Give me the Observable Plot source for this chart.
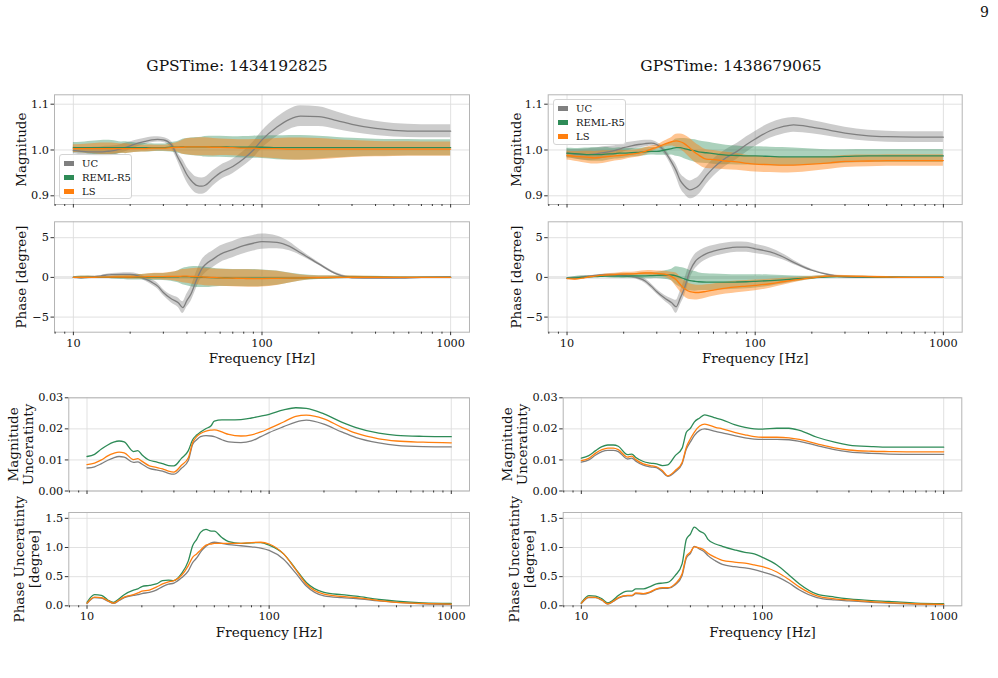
<!DOCTYPE html>
<html><head><meta charset="utf-8">
<script src="https://cdn.jsdelivr.net/npm/d3@7"></script>
<script src="https://cdn.jsdelivr.net/npm/@observablehq/plot@0.6"></script>
<style>
body{margin:0;background:#fff;}
#fig{position:relative;width:998px;height:678px;overflow:hidden;font-family:"DejaVu Serif",serif;background:#fff;}
.title{position:absolute;font-size:15.5px;color:#111;white-space:nowrap;transform:translateX(-50%);line-height:1;}
.pagenum{position:absolute;font-size:14px;color:#111;line-height:1;}
.legend{position:absolute;border:1px solid #d4d4d4;border-radius:3px;background:rgba(255,255,255,0.85);font-size:10px;box-sizing:border-box;padding:1px 4px 0 4px;color:#111;}
.legend .row{height:14.4px;display:flex;align-items:center;white-space:nowrap;}
.legend .sw{width:10px;height:5px;margin-right:8px;flex:none;}
</style></head><body><div id="fig"></div>
<script>
// ---------------- data ----------------
const freqs = [10,11,12,13,14,15,16,18,19,20,22,24,26,28,30,33,36,38,40,42,45,48,50,55,60,70,80,90,100,120,140,160,200,250,300,400,500,700,1000];
const gpsTimes = ["1434192825","1438679065"];
const seriesNames = ["UC","REML-R5","LS"];
const seriesColors = ["#7f7f7f","#2e8b57","#ff7f0e"];
const majorX = [10,100,1000];
const minorX = [8,9,20,30,40,50,60,70,80,90,200,300,400,500,600,700,800,900];
const magTicks = [0.9,1.0,1.1];
const phaseTicks = [-5,0,5];
const magUncTicks = [0,0.01,0.02,0.03];
const phaseUncTicks = [0,0.5,1.0,1.5];

// left column (GPSTime 1434192825)
const magUC_L = [0.999,0.997,0.996,0.996,0.996,0.997,0.998,1.003,1.006,1.009,1.015,1.019,1.022,1.023,1.022,1.012,0.982,0.964,0.946,0.934,0.923,0.921,0.923,0.938,0.950,0.964,0.981,1.000,1.022,1.050,1.067,1.074,1.073,1.064,1.056,1.047,1.043,1.041,1.041];
const magREML_L = [1.005,1.005,1.005,1.005,1.005,1.005,1.005,1.005,1.005,1.005,1.005,1.005,1.005,1.005,1.005,1.006,1.006,1.007,1.007,1.007,1.007,1.007,1.007,1.007,1.007,1.006,1.006,1.006,1.006,1.005,1.005,1.005,1.005,1.005,1.005,1.005,1.005,1.005,1.005];
const magLS_L = [1.003,1.003,1.003,1.003,1.003,1.003,1.003,1.003,1.003,1.003,1.003,1.003,1.004,1.004,1.004,1.005,1.006,1.006,1.007,1.007,1.007,1.007,1.007,1.006,1.006,1.005,1.004,1.004,1.003,1.003,1.002,1.002,1.002,1.002,1.002,1.002,1.002,1.002,1.002];
const phaseUC_L = [0.0,-0.05,0.0,0.1,0.2,0.3,0.35,0.38,0.38,0.38,0.2,-0.2,-0.6,-1.1,-1.9,-2.7,-3.2,-3.8,-2.9,-2.1,-0.3,1.1,1.6,2.3,2.9,3.5,4.0,4.3,4.5,4.4,3.9,3.1,1.7,0.4,-0.05,-0.1,-0.1,0.0,0.05];
const phaseREML_L = [0,0,0,0,0,0,0,0,0,0,0.02,0.03,0.04,0.05,0.05,0.06,0.08,0.1,0.1,0.08,0.05,0.02,0,-0.03,-0.05,-0.08,-0.1,-0.1,-0.1,-0.1,-0.08,-0.05,-0.03,0,0.02,0.02,0.01,0,0];
const phaseLS_L = [0,0,0,0.02,0.03,0.04,0.05,0.05,0.05,0.05,0.06,0.08,0.1,0.1,0.1,0.12,0.13,0.15,0.15,0.12,0.1,0.06,0.03,0,-0.05,-0.1,-0.13,-0.15,-0.15,-0.12,-0.1,-0.07,-0.04,0,0.02,0.02,0.01,0,0];
const magUncUC_L = [0.0074,0.0078,0.0088,0.0099,0.0107,0.0111,0.0109,0.0092,0.0094,0.0087,0.0073,0.0068,0.0064,0.0057,0.0054,0.0073,0.0098,0.0150,0.0165,0.0175,0.0178,0.0177,0.0175,0.0165,0.0158,0.0156,0.0161,0.0175,0.0188,0.0207,0.0222,0.0228,0.0215,0.0190,0.0172,0.0155,0.0147,0.0143,0.0142];
const magUncREML_L = [0.0111,0.0118,0.0135,0.0148,0.0157,0.0161,0.0158,0.0127,0.0130,0.0117,0.0099,0.0094,0.0088,0.0082,0.0081,0.0105,0.0130,0.0165,0.0180,0.0190,0.0201,0.0210,0.0225,0.0229,0.0229,0.0230,0.0235,0.0241,0.0247,0.0261,0.0268,0.0266,0.0248,0.0222,0.0204,0.0186,0.0179,0.0176,0.0175];
const magUncLS_L = [0.0085,0.0090,0.0100,0.0113,0.0121,0.0125,0.0123,0.0101,0.0104,0.0096,0.0081,0.0076,0.0071,0.0064,0.0061,0.0083,0.0107,0.0155,0.0175,0.0185,0.0193,0.0196,0.0197,0.0190,0.0182,0.0177,0.0181,0.0190,0.0201,0.0222,0.0240,0.0244,0.0232,0.0205,0.0186,0.0168,0.0161,0.0157,0.0155];
const phaseUncUC_L = [0.04,0.14,0.13,0.08,0.04,0.09,0.14,0.18,0.19,0.21,0.23,0.27,0.33,0.37,0.39,0.48,0.60,0.74,0.82,0.92,1.02,1.08,1.09,1.07,1.05,1.03,1.01,0.99,0.95,0.80,0.56,0.34,0.17,0.14,0.125,0.085,0.06,0.035,0.025];
const phaseUncREML_L = [0.06,0.19,0.18,0.10,0.06,0.12,0.19,0.27,0.29,0.33,0.35,0.375,0.43,0.44,0.43,0.55,0.77,1.03,1.14,1.26,1.31,1.28,1.28,1.17,1.10,1.07,1.08,1.085,1.04,0.89,0.63,0.40,0.23,0.19,0.165,0.11,0.08,0.05,0.04];
const phaseUncLS_L = [0.045,0.15,0.14,0.09,0.045,0.10,0.15,0.19,0.22,0.25,0.27,0.32,0.375,0.41,0.43,0.52,0.69,0.83,0.89,0.955,1.04,1.06,1.07,1.07,1.07,1.07,1.085,1.09,1.06,0.89,0.62,0.375,0.20,0.16,0.14,0.09,0.06,0.04,0.03];

// right column (GPSTime 1438679065)
const magUC_R = [0.993,0.991,0.990,0.990,0.991,0.993,0.995,0.999,1.002,1.005,1.009,1.012,1.014,1.015,1.012,0.997,0.973,0.955,0.933,0.922,0.913,0.917,0.922,0.944,0.961,0.983,0.997,1.012,1.024,1.042,1.051,1.055,1.050,1.043,1.037,1.031,1.029,1.028,1.028];
const magREML_R = [0.993,0.992,0.991,0.990,0.990,0.990,0.991,0.992,0.993,0.993,0.994,0.995,0.996,0.997,0.997,1.000,1.003,1.005,1.005,1.003,1.000,0.998,0.996,0.994,0.992,0.989,0.988,0.987,0.987,0.986,0.985,0.985,0.985,0.985,0.986,0.987,0.987,0.987,0.987];
const magLS_R = [0.988,0.986,0.985,0.984,0.983,0.984,0.985,0.987,0.988,0.989,0.991,0.993,0.997,1.002,1.006,1.013,1.018,1.020,1.018,1.014,1.004,0.994,0.989,0.980,0.979,0.976,0.974,0.971,0.969,0.968,0.967,0.967,0.969,0.972,0.975,0.976,0.977,0.977,0.977];
const phaseUC_R = [-0.1,-0.1,0.05,0.15,0.25,0.3,0.3,0.3,0.3,0.25,0.12,-0.1,-0.45,-1.1,-1.8,-2.6,-3.2,-3.7,-2.6,-1.4,0.8,2.0,2.4,3.0,3.3,3.65,3.8,3.8,3.6,3.2,2.6,1.9,0.9,0.3,0.05,0.0,0.0,0.0,0.0];
const phaseREML_R = [-0.1,-0.05,0.0,0.05,0.1,0.12,0.15,0.15,0.15,0.15,0.18,0.2,0.2,0.22,0.25,0.3,0.3,0.2,0.0,-0.2,-0.4,-0.5,-0.55,-0.6,-0.6,-0.6,-0.58,-0.55,-0.5,-0.4,-0.3,-0.2,-0.05,0.08,0.1,0.05,0.02,0.0,0.0];
const phaseLS_R = [-0.15,-0.2,-0.1,0.05,0.15,0.25,0.3,0.35,0.4,0.42,0.45,0.5,0.55,0.55,0.5,0.4,0.1,-0.3,-0.9,-1.4,-1.8,-1.9,-1.9,-1.75,-1.6,-1.35,-1.2,-1.1,-1.0,-0.8,-0.55,-0.35,-0.05,0.15,0.15,0.1,0.05,0.0,0.0];
const magUncUC_R = [0.0093,0.0100,0.0116,0.0127,0.0131,0.0131,0.0127,0.0103,0.0106,0.0096,0.0083,0.0078,0.0075,0.0062,0.0047,0.0062,0.0088,0.0135,0.0158,0.0178,0.0195,0.0200,0.0198,0.0192,0.0187,0.0178,0.0171,0.0167,0.0166,0.0166,0.0165,0.0160,0.0146,0.0133,0.0126,0.0121,0.0119,0.0118,0.0118];
const magUncREML_R = [0.0106,0.0114,0.0130,0.0143,0.0148,0.0148,0.0144,0.0117,0.0119,0.0108,0.0095,0.0090,0.0087,0.0082,0.0084,0.0114,0.0138,0.0189,0.0202,0.0222,0.0235,0.0245,0.0243,0.0235,0.0229,0.0214,0.0205,0.0200,0.0199,0.0202,0.0202,0.0195,0.0173,0.0157,0.0148,0.0143,0.0141,0.0141,0.0141];
const magUncLS_R = [0.0098,0.0105,0.0122,0.0133,0.0138,0.0138,0.0133,0.0109,0.0112,0.0101,0.0087,0.0082,0.0078,0.0066,0.0049,0.0066,0.0092,0.0141,0.0168,0.0189,0.0209,0.0215,0.0213,0.0205,0.0200,0.0189,0.0181,0.0175,0.0173,0.0173,0.0171,0.0166,0.0152,0.0139,0.0132,0.0128,0.0127,0.0126,0.0126];
const phaseUncUC_R = [0.04,0.14,0.14,0.095,0.03,0.075,0.13,0.17,0.17,0.21,0.20,0.23,0.28,0.30,0.30,0.36,0.52,0.82,0.90,1.02,0.97,0.92,0.86,0.77,0.71,0.67,0.65,0.62,0.58,0.50,0.39,0.27,0.14,0.10,0.085,0.06,0.045,0.03,0.02];
const phaseUncREML_R = [0.05,0.175,0.165,0.12,0.05,0.10,0.175,0.25,0.25,0.29,0.29,0.33,0.375,0.39,0.40,0.52,0.72,1.14,1.23,1.35,1.28,1.23,1.14,1.06,1.02,0.96,0.915,0.89,0.83,0.70,0.53,0.375,0.20,0.15,0.12,0.09,0.075,0.045,0.035];
const phaseUncLS_R = [0.045,0.15,0.145,0.10,0.035,0.08,0.14,0.18,0.18,0.22,0.21,0.24,0.29,0.31,0.31,0.38,0.55,0.85,0.92,1.01,0.99,0.95,0.90,0.83,0.78,0.75,0.73,0.70,0.67,0.58,0.45,0.32,0.17,0.12,0.10,0.07,0.055,0.035,0.025];

// ---------------- drawing ----------------
const fig = document.getElementById("fig");
const gridColor = "#dedede", frameColor = "#b4b4b4";
const bandOpacity = [0.4, 0.4, 0.45];
const xDomain = [Math.pow(10,0.9), Math.pow(10,3.1)];
const fmtMinus = d => (d < 0 ? "\u2212" + Math.abs(d) : String(d));

function panel(c) {
  const rows = c.values.map((vals, k) => freqs.map((f, i) => ({
    f, v: vals[i],
    lo: c.unc ? vals[i] - c.unc[k][i] : vals[i],
    hi: c.unc ? vals[i] + c.unc[k][i] : vals[i]
  })));
  const marks = [
    Plot.gridX(majorX, {stroke: gridColor, strokeOpacity: 1, strokeWidth: 0.9}),
    Plot.gridY(c.yTicks, {stroke: gridColor, strokeOpacity: 1, strokeWidth: 0.9})
  ];
  if (c.zero) marks.push(Plot.ruleY([0], {stroke: "#e8e8e8", strokeWidth: 3}));
  if (c.unc) rows.forEach((r, k) => marks.push(Plot.areaY(r, {x: "f", y1: "lo", y2: "hi", fill: seriesColors[k], fillOpacity: bandOpacity[k], curve: "monotone-x"})));
  rows.forEach((r, k) => marks.push(Plot.line(r, {x: "f", y: "v", stroke: seriesColors[k], strokeWidth: 1.3, curve: "monotone-x"})));
  marks.push(Plot.frame({stroke: frameColor, strokeWidth: 1}));
  marks.push(Plot.axisX(majorX, {tickSize: 3.5, tickPadding: 3, tickFormat: c.xLabels ? (d => String(d)) : (() => ""), label: null, stroke: "#333"}));
  marks.push(Plot.axisX(minorX, {tickSize: 2, tickFormat: () => "", label: null, stroke: "#333"}));
  marks.push(Plot.axisY(c.yTicks, {tickSize: 3.5, tickPadding: 2, tickFormat: c.yFmt, label: null, stroke: "#333"}));
  marks.push(Plot.text([c.yLabel], {text: d => d, frameAnchor: "left", rotate: -90, dx: c.labelDx, textAnchor: "middle", lineAnchor: "middle", fontSize: 13.5, lineHeight: 1.12, fill: "#111"}));
  if (c.xLabels) marks.push(Plot.text(["Frequency [Hz]"], {text: d => d, frameAnchor: "bottom", dy: 26.5, textAnchor: "middle", lineAnchor: "middle", fontSize: 13.5, fill: "#111"}));
  const svg = Plot.plot({
    width: c.width, height: c.height,
    marginLeft: c.mL, marginRight: c.mR, marginTop: c.mT, marginBottom: c.mB,
    x: {type: "log", domain: xDomain},
    y: {domain: c.yDomain},
    style: {fontFamily: "DejaVu Serif", fontSize: "11.3px", background: "transparent", overflow: "visible", color: "#111"},
    marks
  });
  svg.style.position = "absolute";
  svg.style.left = c.left + "px";
  svg.style.top = c.top + "px";
  fig.appendChild(svg);
}

const cols = [
  {left: 0, width: 499, topML: 54, topMR: 30, botML: 68.3, botMR: 30, dxTop: -33, dxMU: -47.8, dxPU: -42,
   mag: [magUC_L, magREML_L, magLS_L], phase: [phaseUC_L, phaseREML_L, phaseLS_L],
   magUnc: [magUncUC_L, magUncREML_L, magUncLS_L], phaseUnc: [phaseUncUC_L, phaseUncREML_L, phaseUncLS_L]},
  {left: 499, width: 499, topML: 48.7, topMR: 36.3, botML: 63.7, botMR: 36.7, dxTop: -32, dxMU: -48.4, dxPU: -41.7,
   mag: [magUC_R, magREML_R, magLS_R], phase: [phaseUC_R, phaseREML_R, phaseLS_R],
   magUnc: [magUncUC_R, magUncREML_R, magUncLS_R], phaseUnc: [phaseUncUC_R, phaseUncREML_R, phaseUncLS_R]}
];

cols.forEach(col => {
  panel({left: col.left, top: 84, width: col.width, height: 130, mL: col.topML, mR: col.topMR, mT: 10.3, mB: 10,
    yDomain: [0.881, 1.1205], yTicks: magTicks, yFmt: d => d.toFixed(1), yLabel: "Magnitude", labelDx: col.dxTop,
    values: col.mag, unc: col.magUnc, xLabels: false});
  panel({left: col.left, top: 211, width: col.width, height: 160.7, mL: col.topML, mR: col.topMR, mT: 10.3, mB: 40,
    yDomain: [-6.9, 7.0], yTicks: phaseTicks, yFmt: fmtMinus, yLabel: "Phase [degree]", labelDx: col.dxTop,
    values: col.phase, unc: col.phaseUnc, xLabels: true, zero: true});
  panel({left: col.left, top: 387, width: col.width, height: 111.5, mL: col.botML, mR: col.botMR, mT: 10.3, mB: 8,
    yDomain: [0, 0.03], yTicks: magUncTicks, yFmt: d => d.toFixed(2), yLabel: "Magnitude\nUnceratinty", labelDx: col.dxMU,
    values: col.magUnc, unc: null, xLabels: false});
  panel({left: col.left, top: 502, width: col.width, height: 143.3, mL: col.botML, mR: col.botMR, mT: 10, mB: 40,
    yDomain: [0, 1.6], yTicks: phaseUncTicks, yFmt: d => d.toFixed(1), yLabel: "Phase Unceratinty\n[degree]", labelDx: col.dxPU,
    values: col.phaseUnc, unc: null, xLabels: true});
});

// titles
const titleX = [237, 731];
gpsTimes.forEach((t, i) => {
  const d = document.createElement("div");
  d.className = "title";
  d.style.left = titleX[i] + "px";
  d.style.top = "59px";
  d.textContent = "GPSTime: " + t;
  fig.appendChild(d);
});
const pn = document.createElement("div");
pn.className = "pagenum"; pn.style.left = "980px"; pn.style.top = "5px"; pn.textContent = "9";
fig.appendChild(pn);

// legends
const legendPos = [{left: 59, top: 154, width: 73, height: 45}, {left: 553, top: 99, width: 73, height: 46}];
legendPos.forEach(p => {
  const lg = document.createElement("div");
  lg.className = "legend";
  Object.assign(lg.style, {left: p.left + "px", top: p.top + "px", width: p.width + "px", height: p.height + "px"});
  seriesNames.forEach((n, k) => {
    const row = document.createElement("div"); row.className = "row";
    const sw = document.createElement("span"); sw.className = "sw"; sw.style.background = seriesColors[k];
    const tx = document.createElement("span"); tx.textContent = n;
    row.appendChild(sw); row.appendChild(tx); lg.appendChild(row);
  });
  fig.appendChild(lg);
});
</script>
</body></html>
